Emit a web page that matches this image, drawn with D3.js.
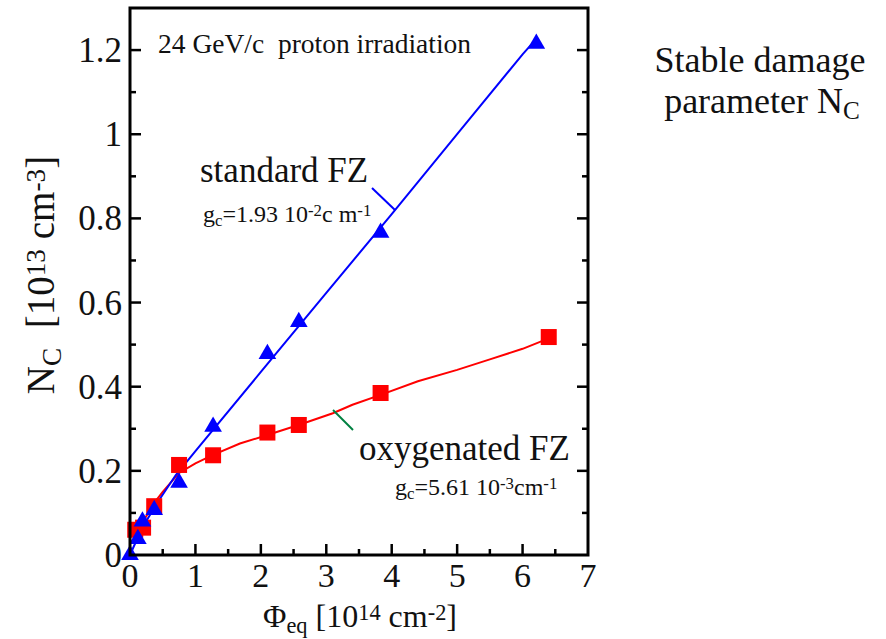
<!DOCTYPE html>
<html>
<head>
<meta charset="utf-8">
<script src="https://cdn.jsdelivr.net/npm/d3@7"></script>
<style>
  body { margin: 0; background: #fff; }
  svg text { font-family: "Liberation Serif", "DejaVu Serif", serif; white-space: pre; fill: #111; }
</style>
</head>
<body>
<script>
// measured points
var stdPhi = [0, 0.12, 0.19, 0.37, 0.75, 1.27, 2.1, 2.58, 3.83, 6.21];
var stdNc = [0, 0.038, 0.08, 0.107, 0.172, 0.305, 0.478, 0.554, 0.766, 1.215];
var oxyPhi = [0.08, 0.2, 0.37, 0.75, 1.27, 2.1, 2.58, 3.83, 6.4];
var oxyNc = [0.06, 0.065, 0.116, 0.214, 0.237, 0.291, 0.309, 0.385, 0.518];

// fit curves
var stdFitPhi = [0, 0.1, 0.2, 0.4, 0.7, 1, 2, 3, 4, 5, 6, 6.2];
var stdFitNc = [0, 0.035, 0.068, 0.12, 0.19, 0.247, 0.435, 0.623, 0.81, 1.0, 1.19, 1.225];
var oxyFitPhi = [0.05, 0.2, 0.4, 0.5, 0.75, 1, 1.27, 1.68, 2.1, 2.6, 3.1, 3.4, 3.82, 4.4, 5, 5.5, 6, 6.4];
var oxyFitNc = [0.05, 0.08, 0.13, 0.15, 0.195, 0.218, 0.238, 0.265, 0.285, 0.31, 0.337, 0.357, 0.38, 0.413, 0.44, 0.465, 0.49, 0.515];

var xMajor = [0, 1, 2, 3, 4, 5, 6, 7];
var xMinor = [0.5, 1.5, 2.5, 3.5, 4.5, 5.5, 6.5];
var yMajor = [0, 0.2, 0.4, 0.6, 0.8, 1, 1.2];
var yMinor = [0.1, 0.3, 0.5, 0.7, 0.9, 1.1];

var width = 886, height = 639;

var svg = d3.select('body').append('svg')
    .attr('width', width)
    .attr('height', height);

var x = d3.scaleLinear().domain([0, 7]).range([130, 588]);
var y = d3.scaleLinear().domain([0, 1.3]).range([555, 8]);

var zip = function (a, b) { return a.map(function (v, i) { return [v, b[i]]; }); };

var line = d3.line()
    .x(function (d) { return x(d[0]); })
    .y(function (d) { return y(d[1]); });

// fit lines
svg.append('path').datum(zip(oxyFitPhi, oxyFitNc))
    .attr('d', line).attr('fill', 'none').attr('stroke', '#ff0000').attr('stroke-width', 2);
svg.append('path').datum(zip(stdFitPhi, stdFitNc))
    .attr('d', line).attr('fill', 'none').attr('stroke', '#0000ff').attr('stroke-width', 2);

// squares
svg.selectAll('rect.oxy').data(zip(oxyPhi, oxyNc)).enter().append('rect')
    .attr('class', 'oxy')
    .attr('x', function (d) { return x(d[0]) - 8; })
    .attr('y', function (d) { return y(d[1]) - 8; })
    .attr('width', 16).attr('height', 16)
    .attr('fill', '#ff0000');

// triangles
var tri = d3.symbol().type(d3.symbolTriangle).size(135);
svg.selectAll('path.std').data(zip(stdPhi, stdNc)).enter().append('path')
    .attr('class', 'std')
    .attr('d', tri)
    .attr('transform', function (d) { return 'translate(' + x(d[0]) + ',' + y(d[1]) + ')'; })
    .attr('fill', '#0000ff');

// frame
svg.append('rect')
    .attr('x', x(0)).attr('y', y(1.3))
    .attr('width', x(7) - x(0)).attr('height', y(0) - y(1.3))
    .attr('fill', 'none').attr('stroke', '#000').attr('stroke-width', 3);

// ticks, all pointing inward
var tickG = svg.append('g').attr('stroke', '#000').attr('stroke-width', 2.5);
function xt(vals, len) {
    tickG.selectAll(null).data(vals).enter().append('line')
        .attr('x1', x).attr('x2', x)
        .attr('y1', y(0)).attr('y2', y(0) - len);
}
function yt(vals, len) {
    tickG.selectAll(null).data(vals).enter().append('line')
        .attr('x1', x(0)).attr('x2', x(0) + len)
        .attr('y1', y).attr('y2', y);
    tickG.selectAll(null).data(vals).enter().append('line')
        .attr('x1', x(7)).attr('x2', x(7) - len)
        .attr('y1', y).attr('y2', y);
}
xt(xMajor.slice(1, 7), 11);
xt(xMinor, 6);
yt(yMajor.slice(1), 11);
yt(yMinor, 6);

// tick labels
svg.selectAll('text.xl').data(xMajor).enter().append('text')
    .attr('x', x).attr('y', 587)
    .attr('text-anchor', 'middle')
    .style('font-size', '34px')
    .text(function (d) { return d; });
svg.selectAll('text.yl').data(yMajor).enter().append('text')
    .attr('x', 122).attr('y', function (d) { return y(d) + 12; })
    .attr('text-anchor', 'end')
    .style('font-size', '35px')
    .text(function (d) { return d; });

// helper for text with sub/superscripts: parts = [[text, 'n'|'sub'|'sup']]
function rich(sel, parts, size) {
    var t = sel.style('font-size', size + 'px');
    parts.forEach(function (p) {
        var s = t.append('tspan').text(p[0]);
        if (p[1] === 'sub') s.attr('baseline-shift', '-25%').style('font-size', (size * 0.7) + 'px');
        if (p[1] === 'sup') s.attr('baseline-shift', '33%').style('font-size', (size * 0.7) + 'px');
    });
    return t;
}

// axis titles
rich(svg.append('text').attr('x', 360).attr('y', 627).attr('text-anchor', 'middle'),
    [['\u03A6', 'n'], ['eq', 'sub'], [' [10', 'n'], ['14', 'sup'], [' cm', 'n'], ['-2', 'sup'], [']', 'n']], 32);
rich(svg.append('text').attr('transform', 'translate(54,275) rotate(-90)').attr('text-anchor', 'middle'),
    [['N', 'n'], ['C', 'sub'], ['  [10', 'n'], ['13', 'sup'], [' cm', 'n'], ['-3', 'sup'], [']', 'n']], 39);

// annotations
svg.append('text').attr('x', 158).attr('y', 53).style('font-size', '27.5px')
    .text('24 GeV/c  proton irradiation');

svg.append('text').attr('x', 200).attr('y', 182).style('font-size', '35px').text('standard FZ');
rich(svg.append('text').attr('x', 203).attr('y', 222),
    [['g', 'n'], ['c', 'sub'], ['=1.93 10', 'n'], ['-2', 'sup'], ['c m', 'n'], ['-1', 'sup']], 24);
svg.append('line').attr('x1', 372).attr('y1', 188).attr('x2', 395).attr('y2', 210)
    .attr('stroke', '#0000ff').attr('stroke-width', 2);

svg.append('text').attr('x', 359).attr('y', 460).style('font-size', '35px').text('oxygenated FZ');
rich(svg.append('text').attr('x', 395).attr('y', 495),
    [['g', 'n'], ['c', 'sub'], ['=5.61 10', 'n'], ['-3', 'sup'], ['cm', 'n'], ['-1', 'sup']], 24);
svg.append('line').attr('x1', 333).attr('y1', 410).attr('x2', 353).attr('y2', 430)
    .attr('stroke', '#008040').attr('stroke-width', 2);

// side title
svg.append('text').attr('x', 760).attr('y', 72).attr('text-anchor', 'middle')
    .style('font-size', '36px').text('Stable damage');
rich(svg.append('text').attr('x', 762).attr('y', 113).attr('text-anchor', 'middle'),
    [['parameter N', 'n'], ['C', 'sub']], 36);
</script>
</body>
</html>
